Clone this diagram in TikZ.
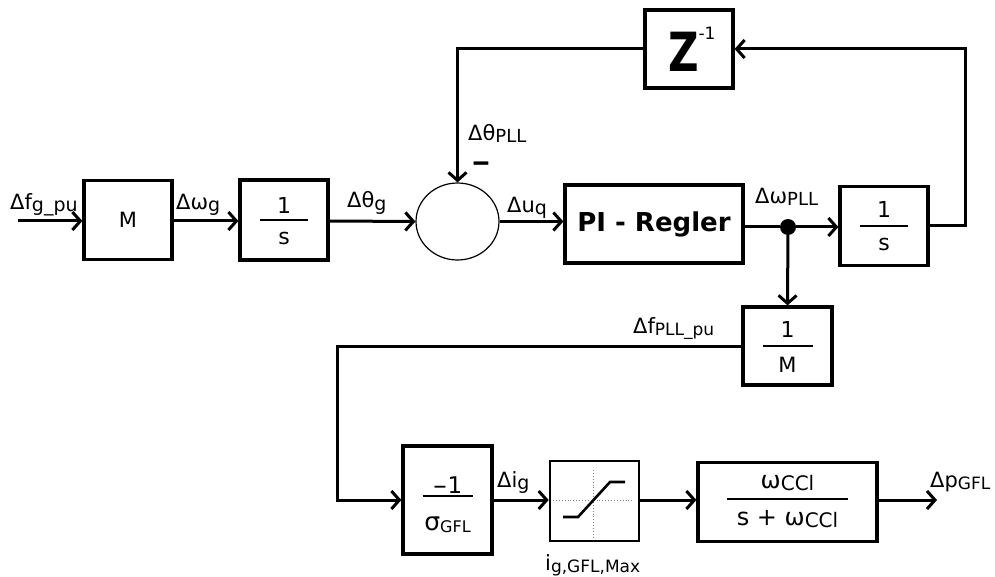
\documentclass[tikz,border=0pt]{standalone}
\usepackage{fontspec}
\setmainfont{DejaVu Sans}
\usetikzlibrary{arrows.meta,shapes.geometric}
\newcommand\fz[1]{\fontsize{#1}{#1}\selectfont}
\newcommand\sbs[2]{\raisebox{-2pt}{\fz{#1}#2}}
% fraction inside a box: #1 node, #2 half width of bar, #3 bar shift (px, down positive),
% #4 numerator baseline above bar, #5 denominator baseline below bar, #6 numerator, #7 denominator
\newcommand\frc[7]{%
  \coordinate (#1bar) at ([shift={(0,#3)}]#1.center);
  \draw[line width=2.6pt] ([shift={(-#2,0)}]#1bar) -- ([shift={(#2,0)}]#1bar);
  \node[anchor=base,inner sep=0pt] (#1num) at ([shift={(0,-#4)}]#1bar) {#6};
  \node[anchor=base,inner sep=0pt] (#1den) at ([shift={(0,#5)}]#1bar) {#7};}
\begin{document}
\begin{tikzpicture}[x=1pt,y=-1pt,
  blk/.style={draw,line width=3.2pt,inner sep=0pt},
  wire/.style={line width=3pt},
  arr/.style={line width=3pt,-{Straight Barb[length=8pt,width=18pt]}},
  lbl/.style={inner sep=0pt,anchor=base west,font=\fz{21}}]
\useasboundingbox (0,0) rectangle (995,577);
\fill[white] (0,0) rectangle (995,577);

% ---------- top row ----------
\node[blk,minimum width=88pt,minimum height=79pt,font=\fz{21}] (M) at (128,220) {M};
\node[blk,minimum width=88pt,minimum height=80pt] (I1) at (284,220) {};
\frc{I1}{24}{0}{6}{25}{\fz{22}1}{\fz{22}s}
\node[draw,ellipse,line width=1.2pt,minimum width=83pt,minimum height=77pt,inner sep=0pt] (sum) at (457.5,221.5) {};
\node[blk,minimum width=178pt,minimum height=78pt,font=\fz{26}\bfseries] (PI) at (654,224) {PI - Regler};
\node[circle,fill,minimum size=16pt,inner sep=0pt] (dot) at (788,227) {};
\node[blk,minimum width=88pt,minimum height=79pt] (I2) at (884,226) {};
\frc{I2}{24}{0}{8}{25}{\fz{22}1}{\fz{22}s}
\node[blk,minimum width=88pt,minimum height=78pt] (Z) at (689,49) {};
\node[inner sep=0pt,font=\fz{54}\bfseries] (Ztxt) at (684,52) {\scalebox{0.78}[1]{Z}};
\node[inner sep=0pt,font=\fz{17}] (Zexp) at (707,33) {-1};

% ---------- 1/M ----------
\node[blk,minimum width=89pt,minimum height=78pt] (IM) at (787.5,346) {};
\frc{IM}{25}{0}{9}{26}{\fz{22}1}{\fz{21}M}

% ---------- bottom row ----------
\node[blk,minimum width=89pt,minimum height=108pt] (C) at (447.5,500) {};
\frc{C}{25}{-4}{3}{34}{\fz{23}\scalebox{1.8}[1]{-}1}{\fz{25}σ\sbs{16}{GFL}}
\node[blk,line width=2.6pt,minimum width=89pt,minimum height=80pt] (sat) at (594.5,501) {};
\draw[dotted,line width=0.9pt,gray] ([shift={(-1.5,-31)}]sat.center) -- ([shift={(-1.5,36)}]sat.center);
\draw[dotted,line width=0.9pt,gray] ([shift={(-41.5,-1)}]sat.center) -- ([shift={(37.5,-1)}]sat.center);
\draw[line width=2.6pt] ([shift={(-31.5,16)}]sat.center) -- ([shift={(-16.5,16)}]sat.center)
  -- ([shift={(15.5,-19)}]sat.center) -- ([shift={(30.5,-19)}]sat.center);
\node[blk,minimum width=179pt,minimum height=79pt] (W) at (787.5,502) {};
\frc{W}{60.5}{-3}{11}{26}{\fz{24}ω\sbs{20}{CCl}}{\fz{24}s + ω\sbs{20}{CCl}}

% ---------- coordinates ----------
\coordinate (in) at (18,221);
\coordinate (cL) at (337,346);
\coordinate (out) at (937,500);

% ---------- connectors ----------
\draw[arr] (in) -- (M.west |- in);
\draw[arr] (M.east |- in) -- (I1.west |- in);
\draw[arr] (I1.east |- in) -- (sum.west);
\draw[arr] (sum.east) -- (PI.west |- sum.east);
\draw[wire] (PI.east |- dot) -- (dot);
\draw[arr] (dot) -- (I2.west |- dot);
\draw[arr] (I2.east) -- ++(36,0) |- (Z.east);
\draw[arr] (Z.west) -| (sum.north);
\draw[arr] (dot) -- (IM.north);
\draw[arr] (IM.west) -- (cL) |- (C.west);
\draw[arr] (C.east |- C.west) -- (sat.west |- C.west);
\draw[arr] (sat.east |- C.west) -- (W.west |- C.west);
\draw[arr] (W.east |- out) -- (out);

% ---------- labels ----------
\node[lbl] (lfg) at (10,210) {Δf\sbs{19}{g\_pu}};
\node[lbl] (lwg) at (176,210) {Δω\sbs{19}{g}};
\node[lbl] (ltg) at (347,208) {Δθ\sbs{19}{g}};
\node[lbl] (luq) at (507,213) {Δu\sbs{19}{q}};
\node[lbl] (ltp) at (468,141) {Δθ\sbs{18}{PLL}};
\node[inner sep=0pt,anchor=base,font=\fz{24}\bfseries] (minus) at (481,171) {\scalebox{2}[1]{-}};
\node[lbl] (lwp) at (755,204) {Δω\sbs{18}{PLL}};
\node[lbl] (lfp) at (633,333) {Δf\sbs{17}{PLL\_pu}};
\node[lbl] (lig) at (497,487) {Δi\sbs{19}{g}};
\node[lbl] (lpg) at (930,487) {Δp\sbs{17}{GFL}};
\node[lbl,font=\fz{21}] (lmax) at (545,570) {i\sbs{17}{g,GFL,Max}};
\end{tikzpicture}
\end{document}
